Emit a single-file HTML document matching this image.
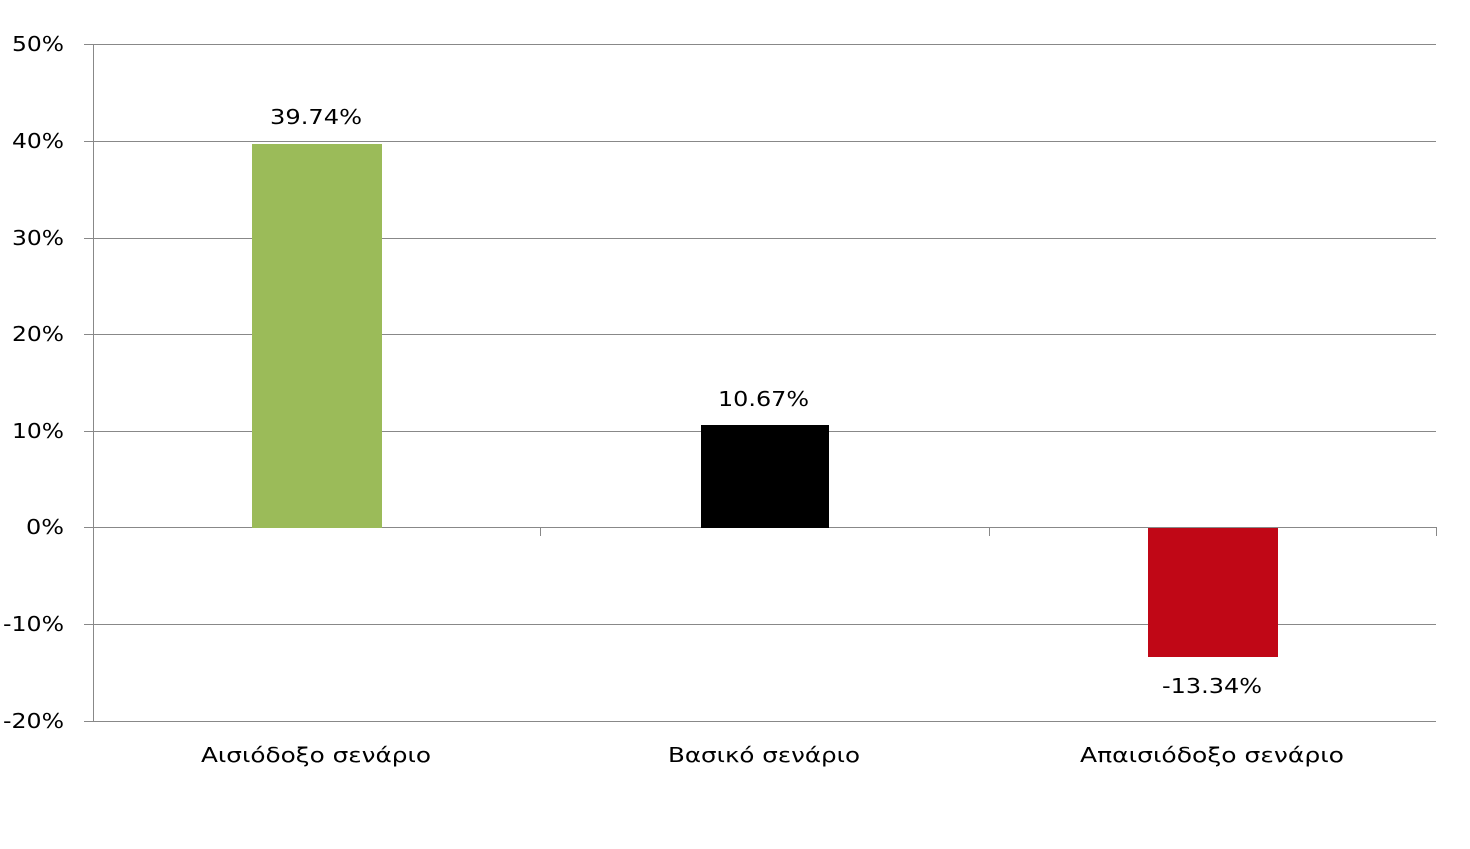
<!DOCTYPE html>
<html><head><meta charset="utf-8"><style>
body{margin:0;background:#fff}
svg text{font-family:"DejaVu Sans","Liberation Sans",sans-serif;font-size:20px;fill:#000}
</style></head><body>
<svg width="1470" height="844" xmlns="http://www.w3.org/2000/svg">
<g stroke="#888" stroke-width="1">
<line x1="84" y1="44.5" x2="1436" y2="44.5"/>
<line x1="84" y1="141.5" x2="1436" y2="141.5"/>
<line x1="84" y1="238.5" x2="1436" y2="238.5"/>
<line x1="84" y1="334.5" x2="1436" y2="334.5"/>
<line x1="84" y1="431.5" x2="1436" y2="431.5"/>
<line x1="84" y1="624.5" x2="1436" y2="624.5"/>
<line x1="84" y1="721.5" x2="1436" y2="721.5"/>
<line x1="93.5" y1="44" x2="93.5" y2="721"/>
<line x1="84" y1="527.5" x2="1436" y2="527.5"/>
<line x1="540.5" y1="527" x2="540.5" y2="536"/>
<line x1="989.5" y1="527" x2="989.5" y2="536"/>
<line x1="1436.5" y1="527" x2="1436.5" y2="536"/>
</g>
<rect x="252" y="144" width="130" height="384" fill="#9bbb59"/>
<rect x="701" y="425" width="128" height="103" fill="#000"/>
<rect x="1148" y="528" width="130" height="129" fill="#c00716"/>
<g>
<text x="12" y="51" textLength="52" lengthAdjust="spacingAndGlyphs">50%</text>
<text x="12" y="148" textLength="52" lengthAdjust="spacingAndGlyphs">40%</text>
<text x="12" y="245" textLength="52" lengthAdjust="spacingAndGlyphs">30%</text>
<text x="12" y="341" textLength="52" lengthAdjust="spacingAndGlyphs">20%</text>
<text x="12" y="438" textLength="52" lengthAdjust="spacingAndGlyphs">10%</text>
<text x="26" y="534" textLength="38" lengthAdjust="spacingAndGlyphs">0%</text>
<text x="3" y="631" textLength="61" lengthAdjust="spacingAndGlyphs">-10%</text>
<text x="3" y="728" textLength="61" lengthAdjust="spacingAndGlyphs">-20%</text>
</g>
<g>
<text x="270" y="124" textLength="92" lengthAdjust="spacingAndGlyphs">39.74%</text>
<text x="718" y="406" textLength="91" lengthAdjust="spacingAndGlyphs">10.67%</text>
<text x="1162" y="693" textLength="100" lengthAdjust="spacingAndGlyphs">-13.34%</text>
<text x="201" y="762" textLength="230" lengthAdjust="spacingAndGlyphs">Αισιόδοξο σενάριο</text>
<text x="668" y="762" textLength="192" lengthAdjust="spacingAndGlyphs">Βασικό σενάριο</text>
<text x="1080" y="762" textLength="264" lengthAdjust="spacingAndGlyphs">Απαισιόδοξο σενάριο</text>
</g>
</svg>
</body></html>
